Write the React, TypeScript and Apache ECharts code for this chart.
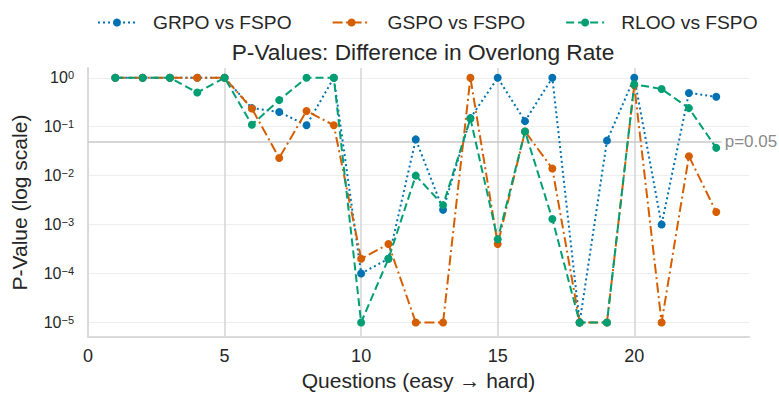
import React, { useEffect, useRef } from "react";
import * as echarts from "echarts";

// Question index (easy → hard)
const questions = [1, 2, 3, 4, 5, 6, 7, 8, 9, 10, 11, 12, 13, 14, 15, 16, 17, 18, 19, 20, 21, 22, 23];

// p-values per question for each pairwise comparison
const grpoVsFspo = [1, 1, 1, 1, 1, 0.24, 0.2, 0.107, 1, 1e-4, 2e-4, 0.055, 0.002, 0.15, 1, 0.13, 1, 1e-5, 0.052, 1, 1e-3, 0.49, 0.41];
const gspoVsFspo = [1, 1, 1, 1, 1, 0.235, 0.023, 0.21, 0.107, 2e-4, 4e-4, 1e-5, 1e-5, 1, 4e-4, 0.08, 0.014, 1e-5, 1e-5, 0.7, 1e-5, 0.025, 0.0018];
const rlooVsFspo = [1, 1, 1, 0.5, 1, 0.11, 0.35, 1, 1, 1e-5, 2e-4, 0.01, 0.0025, 0.147, 5e-4, 0.08, 0.0013, 1e-5, 1e-5, 0.74, 0.59, 0.24, 0.037];

const seriesNames = ["GRPO vs FSPO", "GSPO vs FSPO", "RLOO vs FSPO"];
const significance = 0.05;
const significanceLabel = "p=0.05";

const FONT = "'Liberation Sans', Arial, sans-serif";
const TEXT = "#262626";

export default function App() {
  const ref = useRef<HTMLDivElement>(null);

  useEffect(() => {
    if (!ref.current) return;
    const chart = echarts.init(ref.current, null, { renderer: "svg" });

    const styles = [
      { color: "#0072B2", dash: [2, 3] },
      { color: "#D55E00", dash: [10, 3.5, 2, 3.5] },
      { color: "#009E73", dash: [8, 4] },
    ];
    const values = [grpoVsFspo, gspoVsFspo, rlooVsFspo];

    const series: any[] = values.map((vals, k) => ({
      name: seriesNames[k],
      type: "line",
      data: questions.map((q, i) => [q, vals[i]]),
      symbol: "circle",
      symbolSize: 8,
      showSymbol: true,
      clip: false,
      z: 3 + k,
      lineStyle: { color: styles[k].color, width: 2, type: styles[k].dash },
      itemStyle: { color: styles[k].color },
      emphasis: { disabled: true },
    }));

    // significance threshold
    series[0].markLine = {
      silent: true,
      symbol: ["none", "none"],
      z: 1,
      lineStyle: { color: "#c8c8c8", width: 1.5, type: "solid" },
      label: {
        show: true,
        position: "end",
        distance: 3,
        formatter: significanceLabel,
        color: "#8a8a8a",
        fontSize: 17,
        fontFamily: FONT,
      },
      data: [[{ coord: [0, significance] }, { coord: [23.2, significance] }]],
    };

    const supMinus = (e: number) => (e === 0 ? "0" : "\u2212" + Math.abs(e));

    chart.setOption({
      animation: false,
      backgroundColor: "#ffffff",
      textStyle: { fontFamily: FONT },
      title: {
        text: "P-Values: Difference in Overlong Rate",
        left: 418,
        textAlign: "center",
        top: 35,
        textStyle: { fontFamily: FONT, fontSize: 22.7, fontWeight: "normal", color: TEXT },
      },
      legend: {
        left: 92,
        top: 8,
        itemWidth: 38,
        itemHeight: 10,
        itemGap: 40,
        textStyle: { fontFamily: FONT, fontSize: 19.2, color: TEXT, padding: [0, 0, 0, 12] },
        data: seriesNames,
      },
      grid: { left: 88, top: 68, right: 30, bottom: 53, containLabel: false },
      xAxis: {
        type: "value",
        min: 0,
        max: 24.2,
        interval: 5,
        name: "Questions (easy \u2192 hard)",
        nameLocation: "middle",
        nameGap: 31,
        nameTextStyle: { fontFamily: FONT, fontSize: 21, color: TEXT },
        axisLine: { show: true, onZero: false, lineStyle: { color: "#d9d9d9", width: 2 } },
        axisTick: { show: false },
        axisLabel: { showMaxLabel: false, margin: 10, fontSize: 18, color: TEXT, fontFamily: FONT },
        splitLine: { show: true, showMinLine: false, showMaxLine: false, lineStyle: { color: "#d4d4d4", width: 1.5 } },
      },
      yAxis: {
        type: "log",
        logBase: 10,
        min: Math.pow(10, -5.3),
        max: Math.pow(10, 0.2),
        name: "P-Value (log scale)",
        nameLocation: "middle",
        nameGap: 58,
        nameTextStyle: { fontFamily: FONT, fontSize: 21, color: TEXT },
        axisLine: { show: true, lineStyle: { color: "#d9d9d9", width: 2 } },
        axisTick: { show: false },
        minorTick: { show: false },
        axisLabel: {
          showMinLabel: false,
          showMaxLabel: false,
          margin: 14,
          formatter: (v: number) => `{b|10}{s|${supMinus(Math.round(Math.log10(v)))}}`,
          rich: {
            b: { fontSize: 16, lineHeight: 16, padding: [8, 0, 0, 0], verticalAlign: "bottom", color: TEXT, fontFamily: FONT },
            s: { fontSize: 11, lineHeight: 12, verticalAlign: "top", color: TEXT, fontFamily: FONT },
          },
        },
        splitLine: { show: true, showMinLine: false, showMaxLine: false, lineStyle: { color: "#eeeeee", width: 1 } },
      },
      series,
    });

    return () => chart.dispose();
  }, []);

  return <div ref={ref} style={{ position: "fixed", left: 0, top: 0, width: 779, height: 396 }} />;
}
